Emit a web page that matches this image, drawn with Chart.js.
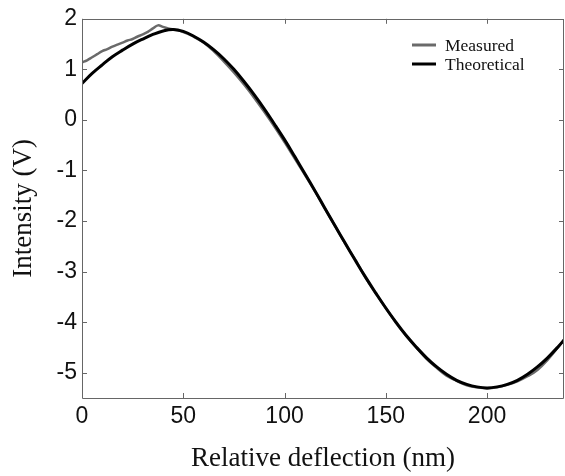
<!DOCTYPE html>
<html>
<head>
<meta charset="utf-8">
<script src="https://cdn.jsdelivr.net/npm/chart.js@4.4.1/dist/chart.umd.min.js"></script>
<style>
  html, body { margin: 0; padding: 0; background: #ffffff; }
  #wrap { width: 565px; height: 476px; position: relative; }
</style>
</head>
<body>
<div id="wrap"><canvas id="c"></canvas></div>
<script>
// ---- Data ----
const seriesNames = ["Measured", "Theoretical"];

const measuredX = [0, 2.5, 5, 7.5, 10, 12.5, 15, 17.5, 20, 22.5, 25, 27.5, 30, 32.5, 35, 37.5, 40, 42.5, 45,
  50, 55, 60, 65, 70, 75, 80, 85, 90, 95, 100, 105, 110, 115, 120, 125, 130, 135, 140, 145, 150,
  155, 160, 165, 170, 175, 180, 185, 190, 195, 200, 205, 210, 215, 220, 225, 230, 235, 238.5];
const measuredY = [1.14, 1.18, 1.24, 1.30, 1.36, 1.40, 1.45, 1.49, 1.53, 1.57, 1.60, 1.65, 1.69, 1.74, 1.81, 1.87, 1.84, 1.81, 1.79,
  1.74, 1.65, 1.53, 1.36, 1.16, 0.94, 0.70, 0.44, 0.16, -0.13, -0.44, -0.76, -1.08, -1.41, -1.76, -2.10, -2.45, -2.77, -3.12, -3.43, -3.72,
  -4.01, -4.27, -4.50, -4.72, -4.90, -5.06, -5.16, -5.25, -5.29, -5.31, -5.29, -5.24, -5.17, -5.07, -4.94, -4.74, -4.50, -4.32];

const theoreticalX = [0, 5, 10, 15, 20, 25, 30, 35, 40, 45, 50, 55, 60, 65, 70, 75, 80, 85, 90, 95, 100,
  105, 110, 115, 120, 125, 130, 135, 140, 145, 150, 155, 160, 165, 170, 175, 180, 185, 190, 195, 200,
  205, 210, 215, 220, 225, 230, 235, 240];
const theoreticalY = [0.72, 0.92, 1.09, 1.25, 1.38, 1.50, 1.60, 1.69, 1.76, 1.79, 1.75, 1.66, 1.54, 1.39, 1.21, 1.00, 0.76, 0.50, 0.22, -0.08, -0.39,
  -0.72, -1.06, -1.40, -1.75, -2.10, -2.44, -2.78, -3.11, -3.42, -3.72, -4.00, -4.26, -4.49, -4.70, -4.88, -5.03, -5.15, -5.23, -5.28, -5.30,
  -5.28, -5.23, -5.15, -5.03, -4.88, -4.70, -4.49, -4.26];

const xTickValues = [0, 50, 100, 150, 200];
const yTickValues = [-5, -4, -3, -2, -1, 0, 1, 2];
const xTitle = "Relative deflection (nm)";
const yTitle = "Intensity (V)";

// ---- Build datasets ----
const toPoints = (xs, ys) => xs.map((x, i) => ({ x: x, y: ys[i] }));

const seriesColors = ["#6a6a6a", "#000000"];

// inward ticks + frame + legend
const framePlugin = {
  id: 'frame',
  afterDraw(chart) {
    const ctx = chart.ctx;
    const a = chart.chartArea;
    const xs = chart.scales.x, ys = chart.scales.y;
    const tl = 5;
    ctx.save();
    ctx.strokeStyle = '#666666';
    ctx.lineWidth = 1;
    ctx.beginPath();
    ctx.rect(Math.round(a.left) + 0.5, Math.round(a.top) + 0.5,
             Math.round(a.right - a.left) - 1, Math.round(a.bottom - a.top));
    ctx.stroke();
    ctx.beginPath();
    xTickValues.forEach(v => {
      const px = Math.round(xs.getPixelForValue(v)) + 0.5;
      ctx.moveTo(px, a.bottom); ctx.lineTo(px, a.bottom - tl);
      ctx.moveTo(px, a.top); ctx.lineTo(px, a.top + tl);
    });
    yTickValues.forEach(v => {
      const py = Math.round(ys.getPixelForValue(v)) + 0.5;
      ctx.moveTo(a.left, py); ctx.lineTo(a.left + tl, py);
      ctx.moveTo(a.right, py); ctx.lineTo(a.right - tl, py);
    });
    ctx.stroke();

    // legend
    const items = [
      { label: chart.data.datasets[0].label, color: chart.data.datasets[0].borderColor, y: 45 },
      { label: chart.data.datasets[1].label, color: chart.data.datasets[1].borderColor, y: 64 }
    ];
    ctx.font = '17.5px "Liberation Serif", "Times New Roman", serif';
    ctx.textBaseline = 'middle';
    ctx.textAlign = 'left';
    items.forEach(it => {
      ctx.strokeStyle = it.color;
      ctx.lineWidth = 3;
      ctx.beginPath();
      ctx.moveTo(412, it.y); ctx.lineTo(436, it.y);
      ctx.stroke();
      ctx.fillStyle = '#111111';
      ctx.fillText(it.label, 445, it.y + 1);
    });
    ctx.restore();
  }
};

new Chart(document.getElementById('c'), {
  type: 'line',
  data: {
    datasets: [
      {
        label: seriesNames[0],
        data: toPoints(measuredX, measuredY),
        borderColor: seriesColors[0],
        borderWidth: 2.5,
        pointRadius: 0,
        tension: 0.4,
        fill: false,
        order: 1
      },
      {
        label: seriesNames[1],
        data: toPoints(theoreticalX, theoreticalY),
        borderColor: seriesColors[1],
        borderWidth: 3,
        pointRadius: 0,
        tension: 0.4,
        fill: false,
        order: 0
      }
    ]
  },
  options: {
    responsive: true,
    maintainAspectRatio: false,
    animation: false,
    devicePixelRatio: 1,
    layout: { padding: { top: 15, right: 1, left: 0, bottom: 0 } },
    plugins: {
      legend: { display: false },
      tooltip: { enabled: false }
    },
    scales: {
      x: {
        type: 'linear',
        min: 0,
        max: 238,
        afterBuildTicks: (s) => { s.ticks = xTickValues.map(v => ({ value: v })); },
        afterFit: (s) => { s.height = 78; },
        grid: { display: false, drawTicks: false },
        border: { display: false },
        ticks: {
          padding: 5,
          color: '#111111',
          maxRotation: 0,
          font: { family: '"Liberation Sans", Arial, sans-serif', size: 23 }
        },
        title: {
          display: true,
          text: xTitle,
          color: '#111111',
          padding: { top: 0, bottom: 1 },
          font: { family: '"Liberation Serif", "Times New Roman", serif', size: 27, lineHeight: 1.2 }
        }
      },
      y: {
        type: 'linear',
        min: -5.5,
        max: 2,
        afterBuildTicks: (s) => { s.ticks = yTickValues.map(v => ({ value: v })); },
        afterFit: (s) => { s.width = 82; },
        grid: { display: false, drawTicks: false },
        border: { display: false },
        ticks: {
          padding: 5,
          color: '#111111',
          font: { family: '"Liberation Sans", Arial, sans-serif', size: 23 }
        },
        title: {
          display: true,
          text: yTitle,
          color: '#111111',
          padding: { top: 8, bottom: 0 },
          font: { family: '"Liberation Serif", "Times New Roman", serif', size: 27, lineHeight: 1.2 }
        }
      }
    }
  },
  plugins: [framePlugin]
});
</script>
</body>
</html>
